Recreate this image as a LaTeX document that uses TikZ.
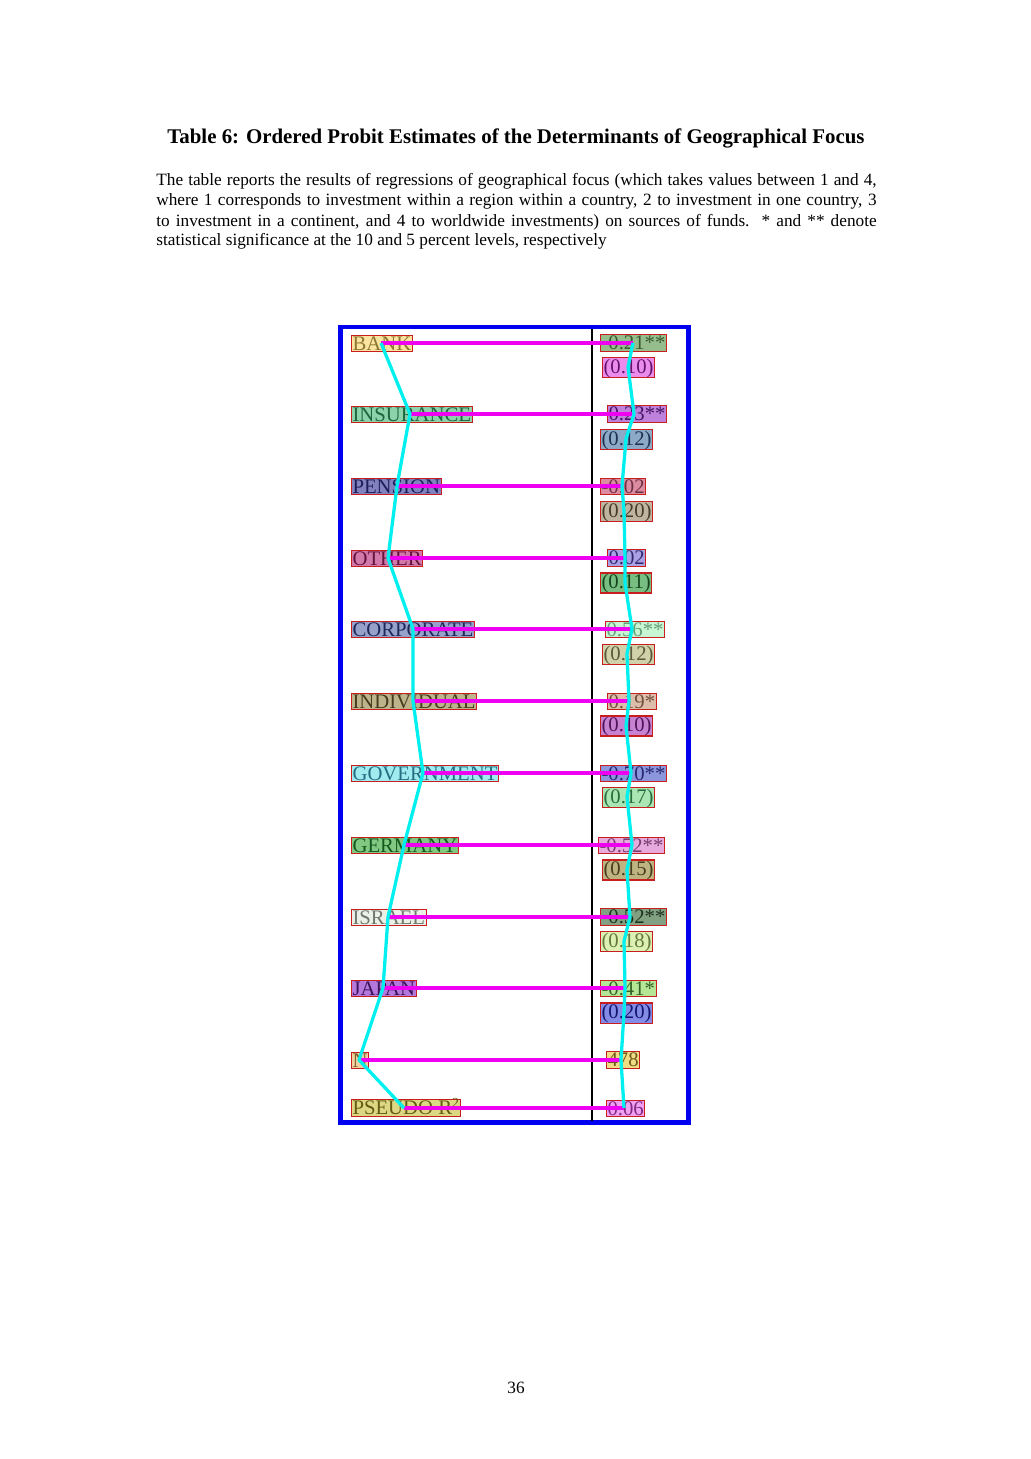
\documentclass[tikz,border=0pt]{standalone}
\usepackage{fontspec}
\setmainfont{Liberation Serif}
\usetikzlibrary{calc}
\definecolor{boxred}{RGB}{200,30,30}
\definecolor{frameblue}{RGB}{0,0,240}
\definecolor{magline}{RGB}{240,0,240}
\definecolor{cyanline}{RGB}{0,240,240}
% left labels: fill / text
\definecolor{fBank}{RGB}{250,228,160}\definecolor{tBank}{RGB}{140,120,50}
\definecolor{fIns}{RGB}{140,210,170}\definecolor{tIns}{RGB}{30,100,60}
\definecolor{fPen}{RGB}{130,130,190}\definecolor{tPen}{RGB}{30,30,90}
\definecolor{fOth}{RGB}{210,120,170}\definecolor{tOth}{RGB}{100,20,60}
\definecolor{fCor}{RGB}{150,160,200}\definecolor{tCor}{RGB}{30,40,90}
\definecolor{fInd}{RGB}{190,180,140}\definecolor{tInd}{RGB}{70,60,30}
\definecolor{fGov}{RGB}{160,235,240}\definecolor{tGov}{RGB}{40,110,130}
\definecolor{fGer}{RGB}{130,200,130}\definecolor{tGer}{RGB}{20,90,30}
\definecolor{fIsr}{RGB}{235,240,230}\definecolor{tIsr}{RGB}{110,120,110}
\definecolor{fJap}{RGB}{180,120,220}\definecolor{tJap}{RGB}{60,20,90}
\definecolor{fN}{RGB}{240,210,160}\definecolor{tN}{RGB}{120,90,40}
\definecolor{fPse}{RGB}{220,215,130}\definecolor{tPse}{RGB}{100,90,20}
% right values: fill / text
\definecolor{fa}{RGB}{150,190,140}\definecolor{ta}{RGB}{60,90,50}
\definecolor{fb}{RGB}{235,140,235}\definecolor{tb}{RGB}{100,20,110}
\definecolor{fc}{RGB}{190,130,220}\definecolor{tc}{RGB}{70,20,100}
\definecolor{fd}{RGB}{140,170,200}\definecolor{td}{RGB}{30,50,80}
\definecolor{fe}{RGB}{220,140,160}\definecolor{te}{RGB}{110,50,70}
\definecolor{ff}{RGB}{190,180,160}\definecolor{tf}{RGB}{70,60,40}
\definecolor{fg}{RGB}{170,160,230}\definecolor{tg}{RGB}{50,40,110}
\definecolor{fh}{RGB}{120,190,130}\definecolor{th}{RGB}{20,70,30}
\definecolor{fi}{RGB}{200,245,210}\definecolor{ti}{RGB}{100,160,120}
\definecolor{fj}{RGB}{210,210,170}\definecolor{tj}{RGB}{90,90,60}
\definecolor{fk}{RGB}{220,190,170}\definecolor{tk}{RGB}{110,80,60}
\definecolor{fl}{RGB}{200,130,210}\definecolor{tl}{RGB}{80,20,90}
\definecolor{fm}{RGB}{140,150,220}\definecolor{tm}{RGB}{40,40,110}
\definecolor{fn}{RGB}{170,230,180}\definecolor{tn}{RGB}{40,110,60}
\definecolor{fo}{RGB}{230,170,220}\definecolor{to}{RGB}{120,60,110}
\definecolor{fp}{RGB}{190,180,130}\definecolor{tp}{RGB}{70,60,30}
\definecolor{fq}{RGB}{130,160,130}\definecolor{tq}{RGB}{30,50,30}
\definecolor{fr}{RGB}{220,240,180}\definecolor{tr}{RGB}{100,120,60}
\definecolor{fs}{RGB}{180,230,150}\definecolor{ts}{RGB}{50,100,40}
\definecolor{ft}{RGB}{130,140,230}\definecolor{tt}{RGB}{20,20,110}
\definecolor{fu}{RGB}{240,220,130}\definecolor{tu}{RGB}{110,90,30}
\definecolor{fv}{RGB}{240,160,240}\definecolor{tv}{RGB}{130,40,130}
\tikzset{
  cell/.style 2 args={draw=boxred,line width=0.6pt,fill=#1,text=#2,anchor=west,
    inner xsep=0.6pt,inner ysep=0.6pt,text height=8.3pt,text depth=0.3pt,
    font=\fontsize{12}{12}\selectfont},
  secell/.style 2 args={cell={#1}{#2},text height=8.6pt,text depth=1.8pt},
  maglink/.style={magline,line width=2.1pt},
  cyanpath/.style={cyanline,line width=1.9pt,line join=round},
  pline/.style={anchor=base west,inner sep=0pt,font=\fontsize{10}{11.6}\selectfont}
}
\begin{document}
\begin{tikzpicture}[x=0.020369cm,y=-0.020369cm]
  \useasboundingbox (0,0) rectangle (1031,1459);
  % heading and caption
  \node[anchor=base,inner sep=0pt,font=\fontsize{12.1}{13}\selectfont\bfseries] (title) at (516,144)
    {Table 6: Ordered Probit Estimates of the Determinants of Geographical Focus};
  \node[pline] (cap1) at (156,186) {\makebox[417.5pt][s]{The table reports the results of regressions of geographical focus (which takes values between 1 and 4,}};
  \node[pline] (cap2) at (156,206) {\makebox[417.5pt][s]{where 1 corresponds to investment within a region within a country, 2 to investment in one country, 3}};
  \node[pline] (cap3) at (156,226) {\makebox[417.5pt][s]{to investment in a continent, and 4 to worldwide investments) on sources of funds.\ \ * and ** denote}};
  \node[pline] (cap4) at (156,246) {statistical significance at the 10 and 5 percent levels, respectively};
  \node[anchor=base,inner sep=0pt,font=\fontsize{10}{12}\selectfont] (page) at (516,1393) {36};
  % frame
  \draw[frameblue,line width=2.8pt] (340.5,327) rectangle (688.5,1122.5);
  \draw[black,line width=0.6pt] (592,329) -- (592,1121);
  % left labels
  \node[cell={fBank}{tBank}] (bank) at (351,343.5) {BANK};
  \node[cell={fIns}{tIns}] (insurance) at (351,414.5) {INSURANCE};
  \node[cell={fPen}{tPen}] (pension) at (351,486.5) {PENSION};
  \node[cell={fOth}{tOth}] (other) at (351,558.5) {OTHER};
  \node[cell={fCor}{tCor}] (corporate) at (351,629.5) {CORPORATE};
  \node[cell={fInd}{tInd}] (individual) at (351,701.5) {INDIVIDUAL};
  \node[cell={fGov}{tGov}] (government) at (351,773.5) {GOVERNMENT};
  \node[cell={fGer}{tGer}] (germany) at (351,845.5) {GERMANY};
  \node[cell={fIsr}{tIsr}] (israel) at (351,917.5) {ISRAEL};
  \node[cell={fJap}{tJap}] (japan) at (351,988.5) {JAPAN};
  \node[cell={fN}{tN}] (nobs) at (351,1060.5) {N};
  \node[cell={fPse}{tPse}] (pseudo) at (351,1108) {PSEUDO R\textsuperscript{2}};
  % right values
  \node[cell={fa}{ta}] (bankv) at (600,343) {-0.21**};
  \node[secell={fb}{tb}] (bankse) at (602,367.5) {(0.10)};
  \node[cell={fc}{tc}] (insurancev) at (607,414) {0.23**};
  \node[secell={fd}{td}] (insurancese) at (600,439.5) {(0.12)};
  \node[cell={fe}{te}] (pensionv) at (600,486.5) {-0.02};
  \node[secell={ff}{tf}] (pensionse) at (600,511.5) {(0.20)};
  \node[cell={fg}{tg}] (otherv) at (607,558) {0.02};
  \node[secell={fh}{th}] (otherse) at (600,583) {(0.11)};
  \node[cell={fi}{ti}] (corporatev) at (605,629.5) {0.56**};
  \node[secell={fj}{tj}] (corporatese) at (602,654.5) {(0.12)};
  \node[cell={fk}{tk}] (individualv) at (607,701.5) {0.19*};
  \node[secell={fl}{tl}] (individualse) at (600,726) {(0.10)};
  \node[cell={fm}{tm}] (governmentv) at (600,773.5) {-0.70**};
  \node[secell={fn}{tn}] (governmentse) at (602,797.5) {(0.17)};
  \node[cell={fo}{to}] (germanyv) at (598,845.5) {-0.52**};
  \node[secell={fp}{tp}] (germanyse) at (602,870) {(0.15)};
  \node[cell={fq}{tq}] (israelv) at (600,917) {-0.52**};
  \node[secell={fr}{tr}] (israelse) at (600,941.5) {(0.18)};
  \node[cell={fs}{ts}] (japanv) at (600,988.5) {-0.41*};
  \node[secell={ft}{tt}] (japanse) at (600,1013) {(0.20)};
  \node[cell={fu}{tu}] (nobsv) at (606,1060) {478};
  \node[cell={fv}{tv}] (pseudov) at (606,1108.5) {0.06};
  % link points
  \coordinate (bankL) at (381,343);       \coordinate (bankR) at (633,343);
  \coordinate (insuranceL) at (410,414);  \coordinate (insuranceR) at (634,414);
  \coordinate (pensionL) at (397,486);    \coordinate (pensionR) at (622,486);
  \coordinate (otherL) at (388,558);      \coordinate (otherR) at (625,558);
  \coordinate (corporateL) at (413,629);  \coordinate (corporateR) at (632,629);
  \coordinate (individualL) at (413,701); \coordinate (individualR) at (629,701);
  \coordinate (governmentL) at (423,773); \coordinate (governmentR) at (631,773);
  \coordinate (germanyL) at (404,845);    \coordinate (germanyR) at (632,845);
  \coordinate (israelL) at (388,917);     \coordinate (israelR) at (630,917);
  \coordinate (japanL) at (383,988);      \coordinate (japanR) at (625,988);
  \coordinate (nobsL) at (359,1060);      \coordinate (nobsR) at (621,1060);
  \coordinate (pseudoL) at (404,1108);    \coordinate (pseudoR) at (624,1108);
  \coordinate (bankS) at (628,367);       \coordinate (insuranceS) at (626,439);
  \coordinate (pensionS) at (624,511);    \coordinate (otherS) at (625,583);
  \coordinate (corporateS) at (627,654);  \coordinate (individualS) at (626,726);
  \coordinate (governmentS) at (627,797); \coordinate (germanyS) at (627,870);
  \coordinate (israelS) at (624,941);     \coordinate (japanS) at (624,1013);
  % magenta links
  \draw[maglink] (bankL) -- (bankR);
  \draw[maglink] (insuranceL) -- (insuranceR);
  \draw[maglink] (pensionL) -- (pensionR);
  \draw[maglink] (otherL) -- (otherR);
  \draw[maglink] (corporateL) -- (corporateR);
  \draw[maglink] (individualL) -- (individualR);
  \draw[maglink] (governmentL) -- (governmentR);
  \draw[maglink] (germanyL) -- (germanyR);
  \draw[maglink] (israelL) -- (israelR);
  \draw[maglink] (japanL) -- (japanR);
  \draw[maglink] (nobsL) -- (nobsR);
  \draw[maglink] (pseudoL) -- (pseudoR);
  % cyan reading order
  \draw[cyanpath] (bankL) -- (insuranceL) -- (pensionL) -- (otherL) -- (corporateL)
    -- (individualL) -- (governmentL) -- (germanyL) -- (israelL) -- (japanL) -- (nobsL) -- (pseudoL);
  \draw[cyanpath] (bankR) -- (bankS) -- (insuranceR) -- (insuranceS) -- (pensionR) -- (pensionS)
    -- (otherR) -- (otherS) -- (corporateR) -- (corporateS) -- (individualR) -- (individualS)
    -- (governmentR) -- (governmentS) -- (germanyR) -- (germanyS) -- (israelR) -- (israelS)
    -- (japanR) -- (japanS) -- (nobsR) -- (pseudoR);
\end{tikzpicture}
\end{document}
